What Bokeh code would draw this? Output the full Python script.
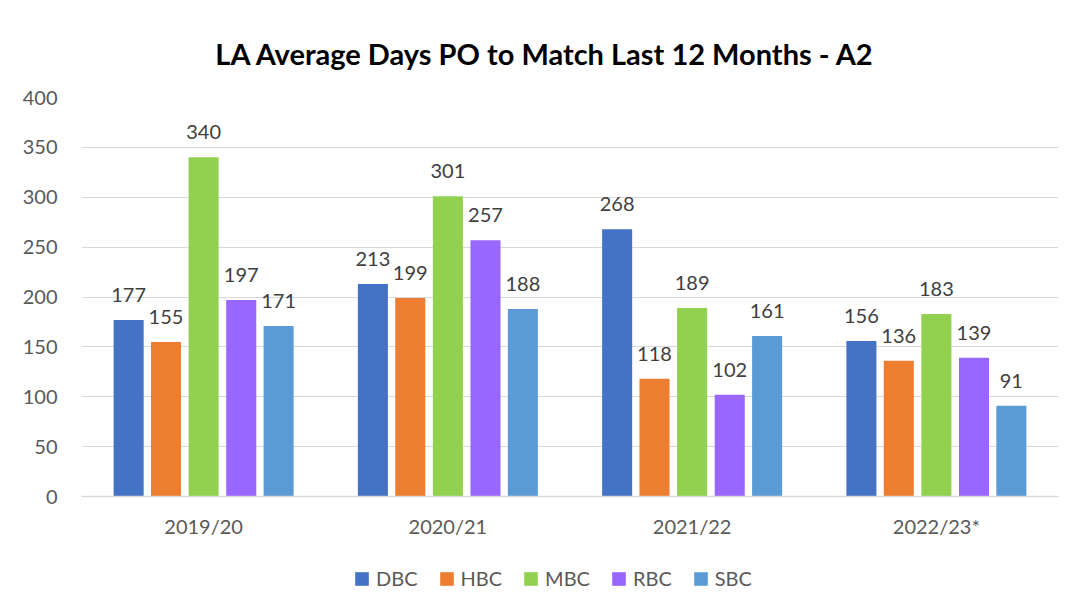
from bokeh.plotting import figure
from bokeh.layouts import column
from bokeh.models import ColumnDataSource, FactorRange, Range1d, Legend, LegendItem, SingleIntervalTicker
from bokeh.transform import dodge
from bokeh.core.properties import value
from bokeh.embed import file_html
from bokeh.resources import INLINE

title_text = "LA Average Days PO to Match Last 12 Months - A2"
categories = ["2019/20", "2020/21", "2021/22", "2022/23*"]
series = ["DBC", "HBC", "MBC", "RBC", "SBC"]
DBC = [177, 213, 268, 156]
HBC = [155, 199, 118, 136]
MBC = [340, 301, 189, 183]
RBC = [197, 257, 102, 139]
SBC = [171, 188, 161, 91]
colors = ["#4472C4", "#ED7D31", "#92D050", "#9966FF", "#5B9BD5"]

FONT = "Lato"
data = {"cat": categories, "DBC": DBC, "HBC": HBC, "MBC": MBC, "RBC": RBC, "SBC": SBC}
for s in series:
    data[s + "_lbl"] = [str(v) for v in data[s]]
source = ColumnDataSource(data)

# title strip
tf = figure(width=1067, height=70, x_range=Range1d(0, 1), y_range=Range1d(0, 70),
            output_backend="svg", toolbar_location=None, min_border=0)
tf.xaxis.visible = False
tf.yaxis.visible = False
tf.grid.visible = False
tf.outline_line_color = None
tf.text(x=[0.137], y=[17], text=[title_text], text_align="left", text_baseline="alphabetic",
        text_font=value(FONT), text_font_size="29px", text_font_style="bold", text_color="#000000")

# main chart
p = figure(x_range=FactorRange(*categories, range_padding=0), y_range=Range1d(0, 400),
           width=1067, height=475, output_backend="svg", toolbar_location=None,
           min_border_left=81, min_border_right=9, min_border_top=27, min_border_bottom=49)

offsets = [-0.307, -0.154, 0.0, 0.154, 0.307]
for s, off, c in zip(series, offsets, colors):
    p.vbar(x=dodge("cat", off, range=p.x_range), top=s, width=0.123, source=source,
           fill_color=c, line_color=None)
    p.text(x=dodge("cat", off, range=p.x_range), y=s, text=s + "_lbl", source=source,
           text_align="center", text_baseline="alphabetic", y_offset=-25,
           text_font=value(FONT), text_font_size="20px", text_color="#404040")

p.yaxis.ticker = SingleIntervalTicker(interval=50)
p.yaxis.axis_line_color = None
p.yaxis.major_tick_line_color = None
p.yaxis.minor_tick_line_color = None
p.yaxis.major_label_standoff = 18
p.xaxis.axis_line_color = "#D9D9D9"
p.xaxis.axis_line_width = 1.5
p.xaxis.major_tick_line_color = None
p.xaxis.minor_tick_line_color = None
p.xaxis.major_label_standoff = 11
for ax in (p.xaxis, p.yaxis):
    ax.major_label_text_font = FONT
    ax.major_label_text_font_size = "20px"
    ax.major_label_text_color = "#595959"

p.xgrid.grid_line_color = None
p.ygrid.grid_line_color = "#D9D9D9"
p.ygrid.grid_line_width = 1
p.outline_line_color = None

# legend strip below the chart
lg = figure(width=1067, height=62, x_range=Range1d(0, 1), y_range=Range1d(0, 1),
            output_backend="svg", toolbar_location=None, min_border=0)
lg.xaxis.visible = False
lg.yaxis.visible = False
lg.grid.visible = False
lg.outline_line_color = None
items = []
for s, c in zip(series, colors):
    r = lg.vbar(x=[0.5], top=[0], bottom=[0], width=0, fill_color=c, line_color=None)
    items.append(LegendItem(label=s, renderers=[r]))
legend = Legend(items=items, orientation="horizontal", location=(272, 17),
                label_text_font=FONT, label_text_font_size="20px", label_text_color="#595959",
                glyph_width=17, glyph_height=17, spacing=20, label_standoff=6,
                border_line_color=None, background_fill_alpha=0, margin=0, padding=0)
lg.add_layout(legend)

layout = column(tf, p, lg, spacing=0)
open("out.html", "w").write(file_html(layout, INLINE))
